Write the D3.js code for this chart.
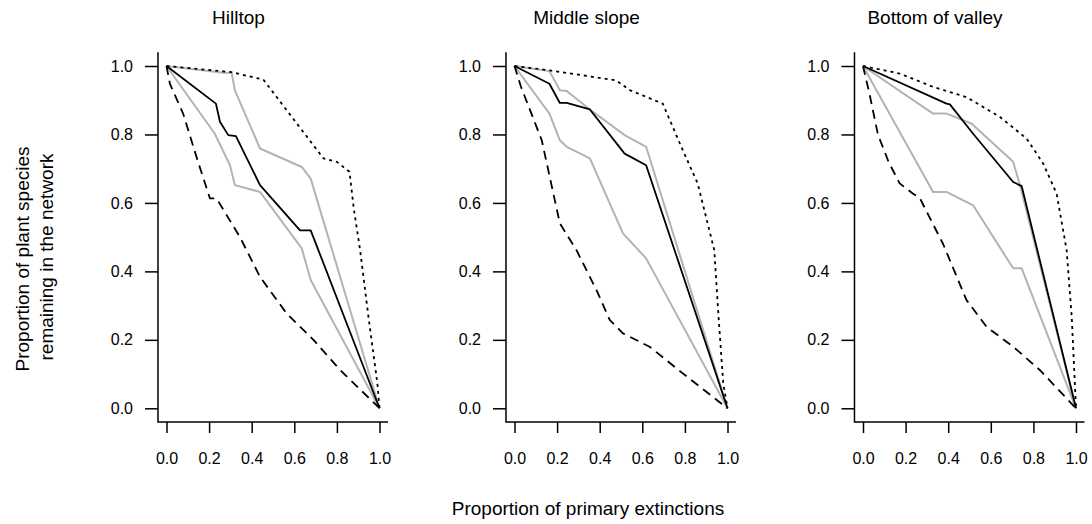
<!DOCTYPE html>
<html>
<head>
<meta charset="utf-8">
<script src="https://cdn.jsdelivr.net/npm/d3@7"></script>
<style>
  body { margin: 0; background: #fff; }
  svg { font-family: "Liberation Sans", Arial, sans-serif; }
  .tick text { font-size: 16px; fill: #000; }
  .tick line { stroke: #000; stroke-width: 1.5; }
</style>
</head>
<body>
<svg id="chart"></svg>
<script>
// panel titles
const panels = ['Hilltop', 'Middle slope', 'Bottom of valley'];
const xTicks = [0, 0.2, 0.4, 0.6, 0.8, 1.0];
const yTicks = [0, 0.2, 0.4, 0.6, 0.8, 1.0];

// Hilltop curves: [proportion of primary extinctions, proportion remaining]
const hilltopBest = [[0,1],[0.306,0.982],[0.455,0.96],[0.737,0.73],[0.80,0.72],[0.859,0.691],[0.88,0.58],[0.909,0.462],[0.948,0.268],[0.99,0.073],[1,0]];
const hilltopMean = [[0,1],[0.232,0.89],[0.251,0.837],[0.29,0.798],[0.326,0.795],[0.439,0.652],[0.627,0.52],[0.677,0.52],[1,0]];
const hilltopHigh = [[0,1],[0.266,0.98],[0.306,0.98],[0.321,0.929],[0.439,0.759],[0.635,0.705],[0.677,0.671],[1,0]];
const hilltopLow = [[0,1],[0.227,0.802],[0.298,0.71],[0.321,0.652],[0.439,0.632],[0.635,0.467],[0.677,0.375],[1,0]];
const hilltopWorst = [[0,1],[0.016,0.948],[0.078,0.861],[0.141,0.734],[0.204,0.613],[0.235,0.613],[0.345,0.5],[0.439,0.384],[0.564,0.277],[0.69,0.2],[0.815,0.112],[1,0]];

// Middle slope curves
const middleBest = [[0,1],[0.167,0.987],[0.478,0.958],[0.54,0.93],[0.696,0.89],[0.79,0.754],[0.86,0.657],[0.938,0.462],[0.958,0.267],[0.98,0.073],[1,0]];
const middleMean = [[0,1],[0.164,0.948],[0.213,0.892],[0.245,0.892],[0.354,0.873],[0.517,0.744],[0.618,0.71],[1,0]];
const middleHigh = [[0,1],[0.164,0.985],[0.213,0.929],[0.245,0.927],[0.354,0.873],[0.517,0.798],[0.618,0.764],[1,0]];
const middleLow = [[0,1],[0.164,0.861],[0.213,0.783],[0.245,0.764],[0.354,0.73],[0.509,0.511],[0.618,0.438],[1,0]];
const middleWorst = [[0,1],[0.03,0.94],[0.128,0.783],[0.213,0.54],[0.291,0.462],[0.385,0.345],[0.447,0.258],[0.509,0.219],[0.634,0.18],[0.79,0.102],[1,0]];

// Bottom of valley curves
const valleyBest = [[0,1],[0.172,0.978],[0.329,0.939],[0.486,0.909],[0.643,0.851],[0.768,0.788],[0.846,0.715],[0.909,0.627],[0.956,0.462],[0.98,0.267],[1,0]];
const valleyMean = [[0,1],[0.392,0.89],[0.408,0.888],[0.517,0.802],[0.705,0.661],[0.745,0.649],[1,0]];
const valleyHigh = [[0,1],[0.329,0.861],[0.392,0.861],[0.509,0.832],[0.705,0.72],[0.74,0.645],[1,0]];
const valleyLow = [[0,1],[0.329,0.632],[0.392,0.632],[0.517,0.593],[0.705,0.409],[0.745,0.409],[1,0]];
const valleyWorst = [[0,1],[0.03,0.92],[0.07,0.8],[0.12,0.72],[0.172,0.657],[0.235,0.627],[0.266,0.615],[0.376,0.48],[0.486,0.316],[0.58,0.238],[0.705,0.18],[0.83,0.112],[1,0]];

const panelData = [
  [hilltopHigh, hilltopLow, hilltopMean, hilltopBest, hilltopWorst],
  [middleHigh, middleLow, middleMean, middleBest, middleWorst],
  [valleyHigh, valleyLow, valleyMean, valleyBest, valleyWorst]
];

// styles in the same order as each panel's list
const styles = [
  {stroke: '#b3b3b3', dash: null, width: 2},
  {stroke: '#b3b3b3', dash: null, width: 2},
  {stroke: '#000', dash: null, width: 1.8},
  {stroke: '#000', dash: '3,4', width: 1.8},
  {stroke: '#000', dash: '9,6', width: 1.8}
];

const width = 1092, height = 524;
const svg = d3.select('#chart').attr('width', width).attr('height', height);

const panelLeft = [166.5, 514.5, 863];
const panelW = 213;
const yTop = 66, yBottom = 408.3;

panels.forEach((title, i) => {
  let x0 = panelLeft[i];
  let pad = panelW * 0.04;
  let padY = (yBottom - yTop) * 0.04;

  let xScale = d3.scaleLinear().domain([0, 1]).range([x0, x0 + panelW]);
  let yScale = d3.scaleLinear().domain([0, 1]).range([yBottom, yTop]);

  let g = svg.append('g');

  let xAxis = d3.axisBottom(xScale).tickValues(xTicks).tickSize(11).tickPadding(20)
    .tickFormat(d3.format('.1f'));
  let yAxis = d3.axisLeft(yScale).tickValues(yTicks).tickSize(13).tickPadding(12)
    .tickFormat(d3.format('.1f'));

  g.append('g')
    .attr('transform', `translate(0,${yBottom + padY})`)
    .call(xAxis)
    .call(a => a.select('.domain').remove());

  g.append('g')
    .attr('transform', `translate(${x0 - pad},0)`)
    .call(yAxis)
    .call(a => a.select('.domain').remove());

  // L-shaped box
  g.append('path')
    .attr('d', `M${x0 - pad},${yTop - padY}V${yBottom + padY}H${x0 + panelW + pad}`)
    .attr('fill', 'none')
    .attr('stroke', '#000')
    .attr('stroke-width', 1.5);

  let line = d3.line()
    .x(d => xScale(d[0]))
    .y(d => yScale(d[1]));

  panelData[i].forEach((series, j) => {
    g.append('path')
      .datum(series)
      .attr('d', line)
      .attr('fill', 'none')
      .attr('stroke', styles[j].stroke)
      .attr('stroke-width', styles[j].width)
      .attr('stroke-dasharray', styles[j].dash)
      .attr('stroke-linejoin', 'round');
  });

  g.append('text')
    .attr('x', x0 + 72)
    .attr('y', 24)
    .attr('text-anchor', 'middle')
    .style('font-size', '19px')
    .text(title);
});

// axis labels
svg.append('text')
  .attr('x', 588)
  .attr('y', 515)
  .attr('text-anchor', 'middle')
  .style('font-size', '19px')
  .text('Proportion of primary extinctions');

svg.append('text')
  .attr('transform', 'translate(29,259) rotate(-90)')
  .attr('text-anchor', 'middle')
  .style('font-size', '19px')
  .text('Proportion of plant species');

svg.append('text')
  .attr('transform', 'translate(53,257) rotate(-90)')
  .attr('text-anchor', 'middle')
  .style('font-size', '19px')
  .text('remaining in the network');
</script>
</body>
</html>
